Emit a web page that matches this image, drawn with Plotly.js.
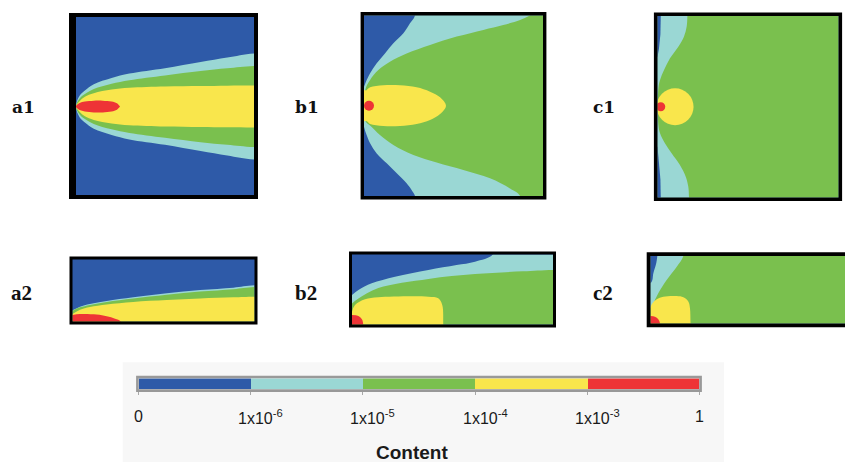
<!DOCTYPE html>
<html><head><meta charset="utf-8">
<script src="https://cdn.plot.ly/plotly-3.0.1.min.js"></script>
<style>html,body{margin:0;padding:0;background:#fff}#chart{width:845px;height:462px}</style>
</head><body><div id="chart"></div>
<script>
// ---------- legend / levels ----------
const levelColors = ['#2E5AA8', '#9AD7D4', '#7AC04E', '#F9E64C', '#EE3436'];
const levelIndex = [0, 1, 2, 3, 4];
const levelTickPos = [0, 1, 2, 3, 4, 5];
const levelTicks = ['0', '1x10<sup>-6</sup>', '1x10<sup>-5</sup>', '1x10<sup>-4</sup>', '1x10<sup>-3</sup>', '1'];
const legendTitle = 'Content';
const panelNames = ['a1', 'b1', 'c1', 'a2', 'b2', 'c2'];

// ---------- a1 (symmetric plume: half-widths about the centre line) ----------
const a1Center = 0.497;
const a1X = [0, 0.02, 0.05, 0.1, 0.2, 0.3, 0.5, 0.7, 0.85, 1.0];
const a1HalfCyan = [0, 0.06, 0.09, 0.125, 0.16, 0.185, 0.215, 0.25, 0.275, 0.298];
const a1HalfGreen = [0, 0.045, 0.07, 0.098, 0.128, 0.148, 0.175, 0.2, 0.215, 0.228];
const a1HalfYellow = [0, 0.03, 0.055, 0.075, 0.095, 0.105, 0.112, 0.115, 0.117, 0.118];
const a1RedX = [0, 0.02, 0.05, 0.1, 0.15, 0.2, 0.23, 0.247];
const a1HalfRed = [0.004, 0.02, 0.028, 0.033, 0.033, 0.028, 0.018, 0];

// ---------- b1 ----------
const b1BlueTopX = [0, 0.011, 0.034, 0.071, 0.117, 0.164, 0.22, 0.257, 0.285];
const b1BlueTopY = [0.605, 0.633, 0.68, 0.735, 0.79, 0.846, 0.901, 0.957, 1.0];
const b1BlueBotX = [0, 0.011, 0.034, 0.071, 0.127, 0.183, 0.238, 0.272, 0.285];
const b1BlueBotY = [0.384, 0.347, 0.292, 0.236, 0.181, 0.126, 0.07, 0.024, 0];
const b1GreenX = [0.927, 0.872, 0.778, 0.667, 0.518, 0.369, 0.238, 0.145, 0.08, 0.034, 0.007, 0.007, 0.037, 0.089, 0.164, 0.276, 0.406, 0.555, 0.704, 0.816, 0.872];
const b1GreenY = [1.0, 0.975, 0.947, 0.92, 0.883, 0.837, 0.79, 0.744, 0.698, 0.643, 0.587, 0.417, 0.388, 0.338, 0.283, 0.227, 0.185, 0.144, 0.098, 0.042, 0];
const b1YellowX = [0.012, 0.034, 0.108, 0.201, 0.294, 0.369, 0.425, 0.458, 0.425, 0.369, 0.294, 0.201, 0.108, 0.034, 0.012];
const b1YellowY = [0.585, 0.602, 0.613, 0.613, 0.602, 0.578, 0.547, 0.5, 0.454, 0.421, 0.399, 0.388, 0.388, 0.399, 0.415];
const b1RedX = [0.028];
const b1RedY = [0.5];

// ---------- c1 ----------
const c1BlueTopX = [0.018, 0.016, 0.008, 0];
const c1BlueTopY = [1.0, 0.9, 0.82, 0.776];
const c1BlueBotX = [0, 0.008, 0.016, 0.018];
const c1BlueBotY = [0.28, 0.2, 0.1, 0];
const c1GreenX = [0.165, 0.161, 0.146, 0.115, 0.069, 0.036, 0.014, 0.005, 0.005, 0.014, 0.041, 0.078, 0.124, 0.156, 0.17, 0.174];
const c1GreenY = [1.0, 0.941, 0.886, 0.831, 0.767, 0.702, 0.647, 0.602, 0.399, 0.354, 0.299, 0.244, 0.179, 0.115, 0.06, 0];
const c1YellowX = [0.097];
const c1YellowY = [0.5];
const c1RedX = [0.018];
const c1RedY = [0.5];

// ---------- a2 ----------
const a2X = [0, 0.041, 0.096, 0.188, 0.334, 0.518, 0.701, 0.884, 1.0];
const a2CyanTop = [0.18, 0.239, 0.282, 0.331, 0.39, 0.454, 0.508, 0.546, 0.583];
const a2GreenTop = [0.175, 0.228, 0.268, 0.315, 0.37, 0.43, 0.482, 0.52, 0.555];
const a2YellowTop = [0.12, 0.19, 0.235, 0.275, 0.315, 0.345, 0.372, 0.39, 0.4];
const a2RedX = [0, 0.041, 0.133, 0.188, 0.234, 0.265];
const a2RedY = [0.105, 0.121, 0.113, 0.084, 0.045, 0];

// ---------- b2 ----------
const b2CyanX = [0, 0.032, 0.098, 0.214, 0.38, 0.52, 0.612, 0.70];
const b2CyanY = [0.421, 0.493, 0.588, 0.683, 0.779, 0.85, 0.898, 1.0];
const b2GreenX = [0, 0.032, 0.131, 0.38, 0.612, 0.85, 1.0];
const b2GreenY = [0.30, 0.37, 0.52, 0.65, 0.72, 0.76, 0.78];
const b2YellowX = [0, 0.015, 0.065, 0.131, 0.38, 0.429, 0.449, 0.454];
const b2YellowY = [0.183, 0.279, 0.36, 0.388, 0.397, 0.374, 0.279, 0];
const b2RedX = [0, 0.032, 0.05, 0.056];
const b2RedY = [0.136, 0.121, 0.07, 0];

// ---------- c2 ----------
const c2BlueX = [0.035, 0.03, 0.015, 0];
const c2BlueY = [1.0, 0.9, 0.75, 0.6];
const c2GreenX = [0, 0.015, 0.04, 0.083, 0.135, 0.169];
const c2GreenY = [0.225, 0.299, 0.447, 0.644, 0.842, 1.0];
const c2YellowX = [0, 0.01, 0.032, 0.066, 0.135, 0.169, 0.195, 0.203, 0.206];
const c2YellowY = [0.24, 0.299, 0.358, 0.397, 0.407, 0.388, 0.323, 0.225, 0];
const c2RedX = [0, 0.023, 0.04, 0.049];
const c2RedY = [0.111, 0.101, 0.062, 0];

// ================= layout helpers =================
const W = 845, H = 462;
const PX = v => v / W;
const PY = v => 1 - v / H;
const [BLUE, CYAN, GREEN, YELLOW, RED] = levelColors;

const panelBox = {
  a1: {n: 1, L: 76, R: 254, T: 17, B: 195, w: 4, base: BLUE},
  b1: {n: 2, L: 364, R: 543, T: 15.5, B: 196, w: 3.4, base: CYAN},
  c1: {n: 3, L: 657.5, R: 838.5, T: 16, B: 197.5, w: 3.6, base: CYAN},
  a2: {n: 4, L: 72.5, R: 254.5, T: 259.5, B: 321.5, w: 3, base: BLUE},
  b2: {n: 5, L: 352, R: 553, T: 254.5, B: 324.5, w: 3, base: BLUE},
  c2: {n: 6, L: 650.5, R: 845, T: 256, B: 323.5, w: 3.8, base: CYAN}
};
const axId = n => (n === 1 ? '' : String(n));

function poly(n, bx, by, corners, color, shape) {
  return {
    type: 'scatter', mode: 'lines', xaxis: 'x' + axId(n), yaxis: 'y' + axId(n),
    x: bx.concat(corners.map(c => c[0])), y: by.concat(corners.map(c => c[1])),
    fill: 'toself', fillcolor: color,
    line: {width: 0, shape: shape || 'spline', smoothing: 1, color: color},
    hoverinfo: 'skip', showlegend: false
  };
}
// band about a centre line; if it reaches the right edge it is carried on outside the frame
function band(n, xs, half, c, color, toEdge) {
  const up = xs.map((_, i) => c + half[i]);
  const lo = xs.map((_, i) => c - half[i]);
  let x = xs.slice(), y = up.slice();
  if (toEdge) { x.push(1.3); y.push(up[up.length - 1]); x.push(1.3); y.push(lo[lo.length - 1]); }
  x = x.concat(xs.slice().reverse()); y = y.concat(lo.slice().reverse());
  return poly(n, x, y, [], color);
}
function dot(n, xs, ys, size, color) {
  return {type: 'scatter', mode: 'markers', xaxis: 'x' + axId(n), yaxis: 'y' + axId(n),
    x: xs, y: ys, marker: {size: size, color: color, line: {width: 0}}, cliponaxis: true,
    hoverinfo: 'skip', showlegend: false};
}
const lowFill = (xs, ys) => [[1.3, ys[ys.length - 1]], [1.3, -0.3], [-0.3, -0.3], [-0.3, ys[0]]];

const traces = [];
// a1
traces.push(band(1, a1X, a1HalfCyan, a1Center, CYAN, true));
traces.push(band(1, a1X, a1HalfGreen, a1Center, GREEN, true));
traces.push(band(1, a1X, a1HalfYellow, a1Center, YELLOW, true));
traces.push(band(1, a1RedX, a1HalfRed, a1Center, RED, false));
// b1
traces.push(poly(2, b1BlueTopX, b1BlueTopY, [[0.29, 1.2], [-0.2, 1.2], [-0.2, 0.6]], BLUE));
traces.push(poly(2, b1BlueBotX, b1BlueBotY, [[0.29, -0.2], [-0.2, -0.2], [-0.2, 0.39]], BLUE));
traces.push(poly(2, b1GreenX, b1GreenY, [[0.88, -0.2], [1.2, -0.2], [1.2, 1.2], [0.93, 1.2]], GREEN));
traces.push(poly(2, b1YellowX, b1YellowY, [[-0.05, 0.4], [-0.05, 0.6]], YELLOW));
traces.push(dot(2, b1RedX, b1RedY, 10, RED));
// c1
traces.push(poly(3, c1BlueTopX, c1BlueTopY, [[-0.2, 0.77], [-0.2, 1.2], [0.02, 1.2]], BLUE, 'linear'));
traces.push(poly(3, c1BlueBotX, c1BlueBotY, [[0.02, -0.2], [-0.2, -0.2], [-0.2, 0.28]], BLUE, 'linear'));
traces.push(poly(3, c1GreenX, c1GreenY, [[0.175, -0.2], [1.2, -0.2], [1.2, 1.2], [0.166, 1.2]], GREEN));
traces.push(dot(3, c1YellowX, c1YellowY, 37, YELLOW));
traces.push(dot(3, c1RedX, c1RedY, 9, RED));
// a2
traces.push(poly(4, a2X, a2CyanTop, lowFill(a2X, a2CyanTop), CYAN));
traces.push(poly(4, a2X, a2GreenTop, lowFill(a2X, a2GreenTop), GREEN));
traces.push(poly(4, a2X, a2YellowTop, lowFill(a2X, a2YellowTop), YELLOW));
traces.push(poly(4, a2RedX, a2RedY, [[0.27, -0.2], [-0.2, -0.2], [-0.2, 0.105]], RED));
// b2
traces.push(poly(5, b2CyanX, b2CyanY, [[0.71, 1.2], [1.3, 1.3], [1.3, -0.3], [-0.3, -0.3], [-0.3, 0.42]], CYAN));
traces.push(poly(5, b2GreenX, b2GreenY, lowFill(b2GreenX, b2GreenY), GREEN));
traces.push(poly(5, b2YellowX, b2YellowY, [[0.456, -0.2], [-0.2, -0.2], [-0.2, 0.183]], YELLOW));
traces.push(poly(5, b2RedX, b2RedY, [[0.06, -0.2], [-0.2, -0.2], [-0.2, 0.136]], RED));
// c2
traces.push(poly(6, c2BlueX, c2BlueY, [[-0.2, 0.6], [-0.2, 1.2], [0.036, 1.2]], BLUE));
traces.push(poly(6, c2GreenX, c2GreenY, [[0.17, 1.2], [1.3, 1.3], [1.3, -0.3], [-0.3, -0.3], [-0.3, 0.225]], GREEN));
traces.push(poly(6, c2YellowX, c2YellowY, [[0.21, -0.2], [-0.2, -0.2], [-0.2, 0.24]], YELLOW));
traces.push(poly(6, c2RedX, c2RedY, [[0.05, -0.2], [-0.2, -0.2], [-0.2, 0.111]], RED));

// colour bar (7th subplot)
const cs = [];
levelColors.forEach((c, i) => { cs.push([i / 5, c]); cs.push([(i + 1) / 5, c]); });
traces.push({type: 'heatmap', xaxis: 'x7', yaxis: 'y7',
  x: levelIndex.map(i => i + 0.5), y: [0], z: [levelIndex],
  zmin: 0, zmax: 4, colorscale: cs, showscale: false, hoverinfo: 'skip'});

const layout = {
  width: W, height: H, margin: {l: 0, r: 0, t: 0, b: 0},
  paper_bgcolor: '#ffffff', plot_bgcolor: 'rgba(0,0,0,0)',
  showlegend: false, shapes: [], annotations: []
};

// grey box behind colour bar
layout.shapes.push({type: 'rect', xref: 'paper', yref: 'paper', layer: 'below',
  x0: PX(122.7), x1: PX(724), y0: PY(470), y1: PY(362.3), fillcolor: '#f7f7f7', line: {width: 0}});

Object.keys(panelBox).forEach(k => {
  const p = panelBox[k], id = axId(p.n);
  layout['xaxis' + id] = {domain: [PX(p.L), PX(p.R)], range: [0, 1], visible: false,
    fixedrange: true, anchor: 'y' + id};
  layout['yaxis' + id] = {domain: [PY(p.B), PY(p.T)], range: [0, 1], visible: false,
    fixedrange: true, anchor: 'x' + id};
  layout.shapes.push({type: 'rect', xref: 'paper', yref: 'paper', layer: 'below',
    x0: PX(p.L - 0.5), x1: PX(p.R + 0.5), y0: PY(p.B + 0.5), y1: PY(p.T - 0.5),
    fillcolor: p.base, line: {width: 0}});
  layout.shapes.push({type: 'rect', xref: 'paper', yref: 'paper', layer: 'above',
    x0: PX(p.L - p.w / 2), x1: PX(p.R + p.w / 2), y0: PY(p.B + p.w / 2), y1: PY(p.T - p.w / 2),
    fillcolor: 'rgba(0,0,0,0)', line: {color: '#000', width: p.w}});
});
// thicker left edge of a1
layout.shapes.push({type: 'rect', xref: 'paper', yref: 'paper', layer: 'above',
  x0: PX(69), x1: PX(76), y0: PY(199), y1: PY(13), fillcolor: '#000', line: {width: 0}});

// colour bar axes
layout.xaxis7 = {domain: [PX(138.7), PX(699.3)], range: [0, 5], tickvals: levelTickPos,
  ticks: 'outside', ticklen: 5, tickwidth: 1, tickcolor: '#a8a8a8', showticklabels: false,
  showgrid: false, zeroline: false, showline: false, fixedrange: true, anchor: 'y7'};
layout.yaxis7 = {domain: [PY(389.3), PY(378.3)], range: [-0.5, 0.5], visible: false,
  fixedrange: true, anchor: 'x7'};
layout.shapes.push({type: 'rect', xref: 'paper', yref: 'paper', layer: 'above',
  x0: PX(137.4), x1: PX(700.6), y0: PY(390.6), y1: PY(377), fillcolor: 'rgba(0,0,0,0)',
  line: {color: '#999999', width: 2.6}});

// tick labels of the colour bar
levelTicks.forEach((t, i) => {
  const inner = i > 0 && i < levelTicks.length - 1;
  layout.annotations.push({xref: 'x7', yref: 'paper', x: levelTickPos[i], y: PY(416.5),
    text: t, showarrow: false, xanchor: 'center', yanchor: 'middle', xshift: inner ? 10 : 0,
    font: {family: 'Liberation Sans, Arial, sans-serif', size: 16, color: '#1a1a1a'}});
});
layout.annotations.push({xref: 'paper', yref: 'paper', x: PX(412), y: PY(452.5), text: legendTitle,
  showarrow: false, xanchor: 'center', yanchor: 'middle',
  font: {family: 'Liberation Sans, Arial, sans-serif', size: 19, color: '#1a1a1a', weight: 'bold'}});

// panel labels
const labelPos = {a1: [10, 107], b1: [292.5, 106.5], c1: [591, 107], a2: [9, 292.5], b2: [292.5, 292.5], c2: [590.5, 292.5]};
panelNames.forEach((nm, i) => {
  const row1 = i < 3;
  layout.annotations.push({xref: 'paper', yref: 'paper', x: PX(labelPos[nm][0]), y: PY(labelPos[nm][1]),
    text: '<b>' + nm + '</b>', showarrow: false, xanchor: 'left', yanchor: 'middle',
    font: {family: row1 ? 'DejaVu Serif, serif' : 'Liberation Serif, Times New Roman, serif',
      size: row1 ? 17 : 21, color: '#111'}});
});

Plotly.newPlot('chart', traces, layout, {staticPlot: true, displayModeBar: false});
</script></body></html>
